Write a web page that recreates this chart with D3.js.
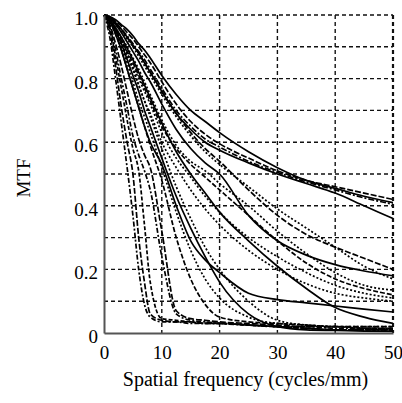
<!DOCTYPE html>
<meta charset="utf-8">
<style>
body { margin: 0; background: #fff; }
svg text { font-family: "Liberation Serif", "DejaVu Serif", serif; }
.curve { fill: none; stroke: #000; stroke-width: 1.7px; }
.grid line { stroke: #111; stroke-width: 1.4px; stroke-dasharray: 4,3; }
</style>
<body>
<script src="https://cdn.jsdelivr.net/npm/d3@7/dist/d3.min.js"></script>
<script>

// spatial frequency samples (cycles/mm)
var freq = [0, 1, 2, 3, 4, 5, 6, 7, 8, 10, 12.5, 15, 17.5, 20, 25, 30, 35, 40, 45, 50];

// MTF values, one array per curve
var a1 = [1, .995, .985, .97, .955, .935, .91, .89, .865, .81, .75, .70, .665, .63, .57, .52, .48, .455, .43, .41];
var a2 = [1, .995, .98, .965, .945, .925, .90, .875, .85, .79, .72, .665, .625, .595, .55, .51, .48, .46, .44, .42];
var a3 = [1, .99, .975, .955, .935, .91, .885, .86, .83, .77, .70, .65, .61, .585, .54, .505, .475, .45, .425, .405];
var a4 = [1, .99, .975, .955, .93, .905, .88, .85, .82, .76, .69, .64, .60, .575, .535, .50, .47, .44, .40, .36];
var b1 = [1, .99, .975, .955, .93, .905, .88, .85, .82, .76, .69, .63, .58, .54, .45, .37, .31, .27, .235, .20];
var b2 = [1, .99, .97, .95, .925, .90, .87, .84, .81, .75, .68, .62, .57, .53, .46, .39, .33, .27, .21, .17];
var b3 = [1, .99, .97, .945, .915, .885, .855, .82, .79, .72, .64, .58, .535, .50, .37, .29, .245, .215, .195, .18];
var b4 = [1, .985, .96, .93, .90, .865, .83, .79, .75, .67, .59, .54, .51, .47, .40, .32, .25, .19, .15, .135];
var b5 = [1, .985, .955, .92, .885, .85, .81, .77, .73, .65, .58, .53, .49, .45, .37, .29, .22, .17, .14, .12];
var c1 = [1, .98, .94, .89, .83, .77, .71, .65, .60, .53, .40, .29, .23, .19, .125, .105, .095, .085, .075, .066];
var c2 = [1, .98, .95, .91, .87, .83, .78, .73, .69, .60, .52, .45, .39, .34, .26, .20, .155, .125, .11, .10];
var c3 = [1, .985, .955, .92, .88, .84, .80, .76, .72, .63, .55, .49, .43, .38, .30, .24, .19, .15, .125, .11];
var c4 = [1, .985, .96, .93, .895, .86, .82, .78, .74, .66, .57, .50, .44, .38, .29, .21, .14, .08, .05, .03];
var e1 = [1, .98, .94, .89, .83, .77, .71, .65, .59, .48, .30, .17, .09, .05, .035, .03, .025, .02, .02, .02];
var e2 = [1, .98, .95, .90, .85, .79, .73, .68, .63, .52, .38, .26, .17, .11, .05, .03, .025, .02, .02, .02];
var e3 = [1, .98, .95, .91, .86, .81, .76, .70, .65, .55, .43, .33, .24, .16, .06, .02, .01, .008, .006, .005];
var e4 = [1, .985, .955, .92, .88, .83, .78, .73, .68, .58, .46, .36, .27, .20, .10, .04, .025, .02, .015, .015];
var s1 = [1, .93, .80, .66, .52, .37, .20, .09, .05, .035, .035, .03, .03, .03, .025, .02, .015, .01, .01, .01];
var s2 = [1, .95, .84, .71, .60, .50, .30, .16, .06, .04, .035, .035, .03, .03, .025, .02, .015, .01, .01, .01];
var s3 = [1, .96, .87, .77, .67, .58, .51, .34, .16, .045, .04, .035, .03, .03, .025, .02, .015, .01, .01, .01];
var s4 = [1, .96, .89, .80, .71, .62, .56, .51, .45, .24, .06, .04, .035, .03, .025, .02, .02, .015, .015, .01];
var s5 = [1, .97, .91, .84, .76, .68, .61, .56, .52, .32, .07, .045, .04, .035, .03, .025, .02, .02, .015, .015];

var series = [a1, a2, a3, a4, b1, b2, b3, b4, b5, c1, c2, c3, c4, e1, e2, e3, e4, s1, s2, s3, s4, s5];
// line style per curve (same order as series)
var dashes = ["none", "6,2", "6,2,2,2", "none", "6,2", "2,2", "none", "2,2", "5,2",
              "none", "2,2", "2,2", "none", "5,2", "2,2", "none", "2,2",
              "5,2,2,2", "6,2", "4,2", "5,2,2,2", "6,2"];

var xTicks = [0, 10, 20, 30, 40, 50];
var yTicks = [0, 0.2, 0.4, 0.6, 0.8, 1.0];
var yGrid = [0.1, 0.2, 0.3, 0.4, 0.5, 0.6, 0.7, 0.8, 0.9, 1.0];

var margin = {top: 15, right: 9, bottom: 70, left: 104},
    width = 402 - margin.left - margin.right,
    height = 403 - margin.top - margin.bottom;

var x = d3.scaleLinear().domain([0, 50]).range([0, width]);
var y = d3.scaleLinear().domain([0, 1]).range([height, 0]);

var svg = d3.select("body").append("svg")
    .attr("width", 402)
    .attr("height", 403)
  .append("g")
    .attr("transform", "translate(" + margin.left + "," + margin.top + ")");

// dashed grid
var grid = svg.append("g").attr("class", "grid");
grid.selectAll(".h").data(yGrid).enter().append("line")
    .attr("x1", 0).attr("x2", width)
    .attr("y1", function(d) { return y(d); })
    .attr("y2", function(d) { return y(d); });
grid.selectAll(".v").data([10, 20, 30, 40, 50]).enter().append("line")
    .attr("y1", 0).attr("y2", height)
    .attr("x1", function(d) { return x(d); })
    .attr("x2", function(d) { return x(d); })
    .style("stroke-width", function(d) { return d === 50 ? 2.2 : 1.4; });

// curves
var line = d3.line()
    .x(function(d, i) { return x(freq[i]); })
    .y(function(d) { return y(d); })
    .curve(d3.curveMonotoneX);

svg.selectAll(".curve").data(series).enter().append("path")
    .attr("class", "curve")
    .attr("d", line)
    .style("stroke-dasharray", function(d, i) { return dashes[i]; });

// axes
var xAxis = svg.append("g")
    .attr("transform", "translate(0," + height + ")")
    .call(d3.axisBottom(x).tickValues(xTicks).tickSize(0).tickPadding(13)
      .tickFormat(d3.format("d")));
xAxis.select(".domain").attr("stroke", "#555").attr("stroke-width", 2);

var yAxis = svg.append("g")
    .call(d3.axisLeft(y).tickValues(yTicks).tickSize(0).tickPadding(6)
      .tickFormat(function(d) { return d === 0 ? "0" : d3.format(".1f")(d); }));
yAxis.select(".domain").attr("stroke", "#555").attr("stroke-width", 2);
yAxis.selectAll(".tick text").attr("dy", "0.5em");

xAxis.attr("font-family", null).attr("font-size", 19);
yAxis.attr("font-family", null).attr("font-size", 19);
svg.selectAll(".tick text").attr("fill", "#000");

// axis titles
svg.append("text")
    .attr("x", width / 2 - 3)
    .attr("y", height + 53)
    .attr("text-anchor", "middle")
    .attr("font-size", 20)
    .text("Spatial frequency (cycles/mm)");

svg.append("text")
    .attr("transform", "translate(-74," + (height / 2 + 4) + ") rotate(-90)")
    .attr("text-anchor", "middle")
    .attr("font-size", 19)
    .text("MTF");

</script>
</body>
